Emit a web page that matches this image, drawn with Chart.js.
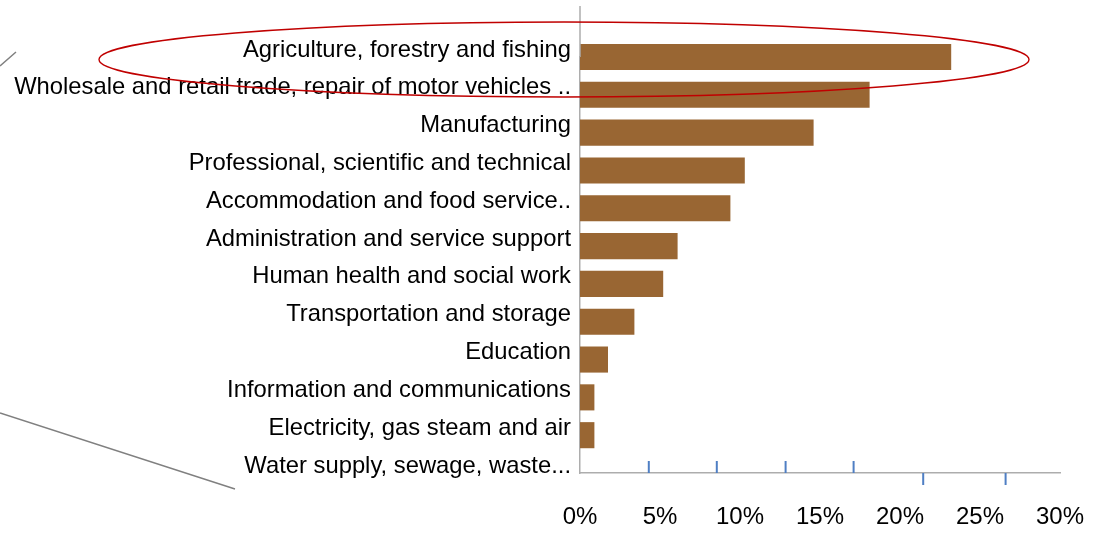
<!DOCTYPE html>
<html>
<head>
<meta charset="utf-8">
<script src="https://cdn.jsdelivr.net/npm/chart.js@4.4.1/dist/chart.umd.min.js"></script>
<style>
  html, body { margin: 0; padding: 0; background: #ffffff; }
  #wrap { width: 1110px; height: 537px; position: relative; }
</style>
</head>
<body>
<div id="wrap"><canvas id="chart"></canvas></div>
<script>
// Share of enterprises by industry (%)
const industries = [
  'Agriculture, forestry and fishing',
  'Wholesale and retail trade, repair of motor vehicles ..',
  'Manufacturing',
  'Professional, scientific and technical',
  'Accommodation and food service..',
  'Administration and service support',
  'Human health and social work',
  'Transportation and storage',
  'Education',
  'Information and communications',
  'Electricity, gas steam and air',
  'Water supply, sewage, waste...'
];
const shares = [23.2, 18.1, 14.6, 10.3, 9.4, 6.1, 5.2, 3.4, 1.75, 0.9, 0.9, 0];
const percentTicks = [0, 5, 10, 15, 20, 25, 30];

// Small blue marks along the horizontal axis (axis units) and their direction
const axisMarks = [4.3, 8.55, 12.85, 17.1, 21.45, 26.6];
const axisMarkUp = [true, true, true, true, false, false];

const FONT = '"Liberation Sans", Arial, Helvetica, sans-serif';
const AXIS_GREY = '#adadad';

const decorations = {
  id: 'decorations',
  afterDraw(chart) {
    const ctx = chart.ctx;
    const area = chart.chartArea;
    const x = chart.scales.x;
    ctx.save();

    // vertical axis line continues above the first bar
    ctx.strokeStyle = AXIS_GREY;
    ctx.lineWidth = 1.5;
    ctx.beginPath();
    ctx.moveTo(area.left, 6);
    ctx.lineTo(area.left, area.top);
    ctx.stroke();

    // blue tick marks on the horizontal axis
    ctx.strokeStyle = '#4f7fc4';
    ctx.lineWidth = 2;
    axisMarks.forEach((v, i) => {
      const px = x.getPixelForValue(v);
      ctx.beginPath();
      if (axisMarkUp[i]) {
        ctx.moveTo(px, area.bottom - 12);
        ctx.lineTo(px, area.bottom);
      } else {
        ctx.moveTo(px, area.bottom);
        ctx.lineTo(px, area.bottom + 12);
      }
      ctx.stroke();
    });

    // red ellipse around the top two industries
    ctx.strokeStyle = '#c00000';
    ctx.lineWidth = 1.4;
    ctx.beginPath();
    ctx.ellipse(564, 59.5, 465, 37.5, 0, 0, Math.PI * 2);
    ctx.stroke();

    // grey callout lines on the left
    ctx.strokeStyle = '#808080';
    ctx.lineWidth = 1.5;
    ctx.beginPath();
    ctx.moveTo(0, 66);
    ctx.lineTo(16, 52);
    ctx.moveTo(0, 413);
    ctx.lineTo(235, 489);
    ctx.stroke();

    ctx.restore();
  }
};

new Chart(document.getElementById('chart'), {
  type: 'bar',
  data: {
    labels: industries,
    datasets: [{
      data: shares,
      backgroundColor: '#996633',
      borderWidth: 0,
      categoryPercentage: 0.69,
      barPercentage: 1,
      clip: false
    }]
  },
  options: {
    indexAxis: 'y',
    responsive: true,
    maintainAspectRatio: false,
    animation: false,
    devicePixelRatio: 1,
    layout: { padding: { top: 57, right: 50, bottom: 0, left: 0 } },
    plugins: {
      legend: { display: false },
      tooltip: { enabled: false }
    },
    scales: {
      x: {
        type: 'linear',
        min: 0,
        max: 30,
        afterBuildTicks: s => { s.ticks = percentTicks.map(v => ({ value: v })); },
        afterFit: s => { s.height = 64; },
        // tick marks are hidden; their length only spaces the labels below the axis
        grid: { display: false, drawTicks: true, tickLength: 30 },
        border: { display: true, color: AXIS_GREY, width: 1.5 },
        ticks: {
          padding: 0,
          maxRotation: 0,
          autoSkip: false,
          color: '#000000',
          font: { family: FONT, size: 24 },
          callback: v => v + '%'
        }
      },
      y: {
        type: 'category',
        offset: false,
        afterFit: s => { s.width = 580; },
        grid: { display: false, drawTicks: false },
        border: { display: true, color: AXIS_GREY, width: 1.5 },
        ticks: {
          padding: 9,
          labelOffset: -7,
          autoSkip: false,
          color: '#000000',
          font: { family: FONT, size: 23.8 }
        }
      }
    }
  },
  plugins: [decorations]
});
</script>
</body>
</html>
